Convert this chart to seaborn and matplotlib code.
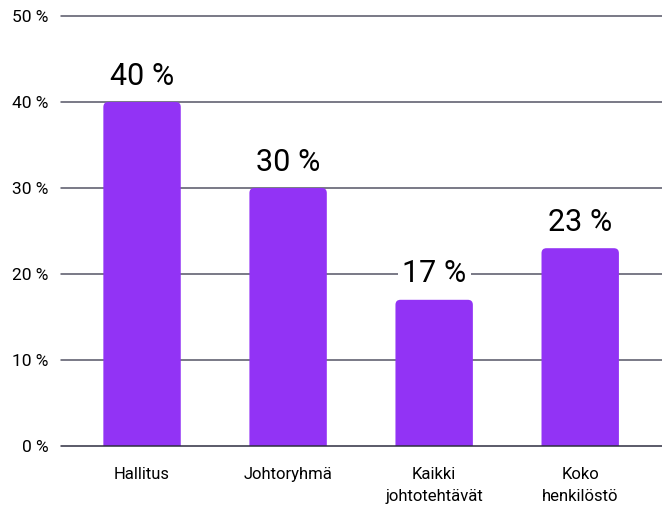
import matplotlib
matplotlib.use("Agg")
import matplotlib.pyplot as plt
from matplotlib.patches import FancyBboxPatch
import seaborn as sns
import pandas as pd

categories = ["Hallitus", "Johtoryhmä", "Kaikki\njohtotehtävät", "Koko\nhenkilöstö"]
values = [40, 30, 17, 23]
yticks = [0, 10, 20, 30, 40, 50]

sns.set_theme(style="white")
plt.rcParams['font.family'] = ['Roboto', 'DejaVu Sans']
plt.rcParams['text.color'] = 'black'
plt.rcParams['xtick.color'] = 'black'
plt.rcParams['ytick.color'] = 'black'

df = pd.DataFrame({"cat": categories, "val": values})

fig = plt.figure(figsize=(6.62, 5.05), dpi=100)
ax = fig.add_axes([61 / 662, 1 - 446 / 505, 1 - 61 / 662, (446 - 16) / 505])

sns.barplot(data=df, x="cat", y="val", color="#9233F5", saturation=1, width=0.53, ax=ax, zorder=3)

ax.set_xlim(-0.555, 3.56)
ax.set_ylim(0, 50)

# round the top corners of the bars
px_x = 146.0
px_y = 8.6
for p in list(ax.patches):
    x, w, h = p.get_x(), p.get_width(), p.get_height()
    p.remove()
    rp = FancyBboxPatch((x, -2), w, h + 2,
                        boxstyle="round,pad=0,rounding_size=%f" % (5 / px_x),
                        mutation_aspect=px_x / px_y,
                        facecolor="#9233F5", edgecolor="none", zorder=3)
    ax.add_patch(rp)

for y in yticks:
    ax.axhline(y, color="#2e2e40" if y == 0 else "#555566", lw=1.1, zorder=5 if y == 0 else 1,
               clip_on=False)

for i, v in enumerate(values):
    ax.text(i, v + 3.0, f"{v} %", ha="center", va="center", fontsize=22, color="black",
            bbox=dict(facecolor="white", edgecolor="none", pad=3), zorder=4)

ax.set_yticks(yticks)
ax.set_yticklabels([f"{t} %" for t in yticks], fontsize=12.5)
ax.tick_params(axis="y", length=0, pad=9)
ax.tick_params(axis="x", length=0, pad=15, labelsize=12)
for lbl in ax.get_xticklabels():
    lbl.set_linespacing(1.6)
ax.set_xlabel("")
ax.set_ylabel("")
for s in ax.spines.values():
    s.set_visible(False)

fig.savefig("out.png", dpi=100)
